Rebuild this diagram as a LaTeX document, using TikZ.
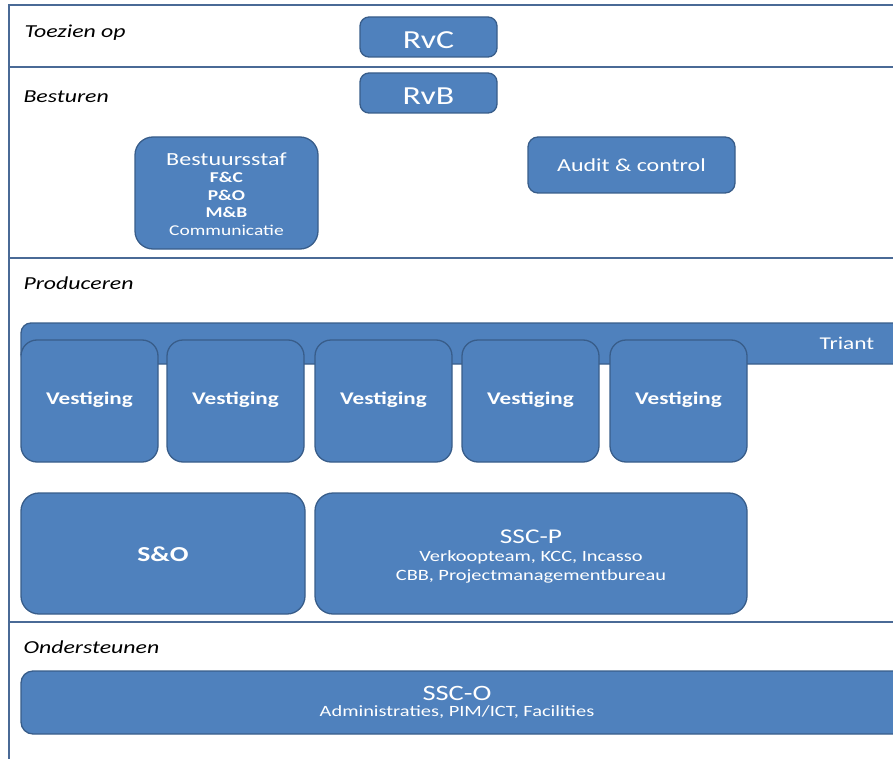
\documentclass[tikz,border=0pt]{standalone}
\usepackage{fontspec}
\setmainfont{Carlito}[FakeStretch=1.3]
\definecolor{boxfill}{HTML}{4F81BD}
\definecolor{boxline}{HTML}{385D8A}
\definecolor{frameline}{HTML}{4A6A96}
\begin{document}
\begin{tikzpicture}[x=1pt,y=-1pt,
  unit/.style={draw=boxline, line width=1.3pt, fill=boxfill, rounded corners=12pt, text=white},
  lanelabel/.style={anchor=west, font=\fontsize{18.3}{20}\selectfont\itshape, text=black},
  btxt/.style={text=white, font=\fontsize{17.8}{19}\selectfont\bfseries},
  frame/.style={draw=frameline, line width=1.6pt}]
\useasboundingbox (0,0) rectangle (893,759);
\clip (0,0) rectangle (893,759);
% frame
\draw[frame] (893,5) -- (9,5) -- (9,759);
\draw[frame] (9,67) -- (893,67);
\draw[frame] (9,258) -- (893,258);
\draw[frame] (9,622) -- (893,622);
% lane labels
\node[lanelabel] (l1) at (21,33) {Toezien op};
\node[lanelabel] (l2) at (20,97) {Besturen};
\node[lanelabel] (l3) at (20,283) {Produceren};
\node[lanelabel] (l4) at (20,647) {Ondersteunen};
% boxes
\draw[unit, rounded corners=9pt] (360,17) rectangle (497,57);
\node[text=white, font=\fontsize{26}{28}\selectfont] (rvc) at (428.5,40) {RvC};
\draw[unit, rounded corners=9pt] (360,73) rectangle (497,113);
\node[text=white, font=\fontsize{26}{28}\selectfont] (rvb) at (428.5,96) {RvB};
\draw[unit, rounded corners=18pt] (135,137) rectangle (318,249);
\node[text=white, align=center, font=\fontsize{15}{17.5}\selectfont] (staf) at (226.5,194)
  {{\fontsize{18.5}{18}\selectfont Bestuursstaf}\\ \textbf{F\&C}\\ \textbf{P\&O}\\ \textbf{M\&B}\\ Communicatie};
\draw[unit, rounded corners=10pt] (528,137) rectangle (735,193);
\node[text=white, font=\fontsize{18.4}{20}\selectfont] (audit) at (631.5,165) {Audit \& control};
% Triant
\draw[unit, rounded corners=10pt] (21,323) rectangle (905,364);
\node[text=white, font=\fontsize{18}{20}\selectfont] (triant) at (847,343) {Triant};
% Vestigingen
\foreach \x [count=\i] in {21,167,315,462,610}{
  \draw[unit, rounded corners=16pt] (\x,340) rectangle ({\x+137},462);
  \node[btxt] (v\i) at ({\x+68.5},400) {Vestiging};
}
% S&O and SSC-P
\draw[unit, rounded corners=18pt] (21,493) rectangle (305,614);
\node[text=white, font=\fontsize{21.3}{23}\selectfont\bfseries] (so) at (163,554) {S\&O};
\draw[unit, rounded corners=18pt] (315,493) rectangle (747,614);
\node[text=white, align=center, font=\fontsize{15.7}{19.5}\selectfont] (sscp) at (531,557)
  {{\fontsize{21}{22}\selectfont SSC-P}\\[-2pt] Verkoopteam, KCC, Incasso\\ CBB, Projectmanagementbureau};
% SSC-O
\draw[unit, rounded corners=12pt] (21,671) rectangle (905,734);
\node[text=white, align=center, font=\fontsize{15.7}{19}\selectfont] (ssco) at (457,702)
  {{\fontsize{21.9}{22}\selectfont SSC-O}\\[-3pt] Administraties, PIM/ICT, Facilities};
\end{tikzpicture}
\end{document}
